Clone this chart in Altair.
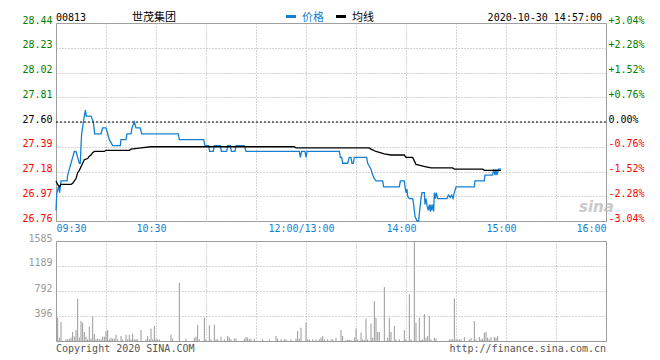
import altair as alt
import pandas as pd

# ---- data (trading minutes after 09:30, lunch break removed) ----
price_min = [0, 0.5, 1.5, 2.2, 3, 6.6, 7, 8, 9, 10, 11, 12, 13, 14, 14.6, 15, 15.4, 16.4, 17, 17.6,
             18.2, 21, 22.4, 23.2, 27, 28, 30, 31, 32, 34, 38.6, 39, 42, 42.6, 45, 45.6, 47, 48, 50.6, 51.4,
             73.4, 74, 88.6, 89.4, 91.6, 92.2, 94.4, 95, 98.6, 99.2, 102.4, 103, 104.6, 105.2, 107.4, 108,
             113, 114, 146, 146.6, 147.4, 149.4, 150, 150.6, 170, 170.6, 171.4, 172, 175, 176, 177, 177.6,
             178.4, 179, 186.4, 187, 189, 190, 191, 192, 196, 196.6, 206, 206.6, 209, 209.4, 210, 210.6,
             211, 212, 214, 214.6, 215.4, 216.6, 217.6, 218.2, 219, 219.6, 221, 221.4, 222, 222.6, 223.4,
             224, 224.6, 225, 225.4, 226.2, 226.6, 227, 227.6, 228.2, 229, 234.6, 235.4, 236.6, 237.4,
             238.2, 239, 240, 251, 251.4, 257, 257.4, 262, 262.6, 263.4, 264, 264.6, 265.4, 267]
price_val = [26.85, 27.00, 27.05, 27.00, 27.10, 27.10, 27.15, 27.20, 27.25, 27.30, 27.35, 27.35, 27.30,
             27.25, 27.25, 27.40, 27.50, 27.60, 27.65, 27.70, 27.65, 27.65, 27.60, 27.50, 27.50, 27.55,
             27.55, 27.50, 27.45, 27.40, 27.40, 27.45, 27.45, 27.50, 27.50, 27.55, 27.60, 27.55, 27.55,
             27.50, 27.50, 27.45, 27.45, 27.40, 27.40, 27.35, 27.35, 27.40, 27.40, 27.35, 27.35, 27.40,
             27.40, 27.35, 27.35, 27.40, 27.40, 27.35, 27.35, 27.30, 27.35, 27.35, 27.30, 27.35, 27.35,
             27.30, 27.30, 27.25, 27.25, 27.30, 27.30, 27.25, 27.25, 27.30, 27.30, 27.25, 27.20, 27.15,
             27.12, 27.10, 27.10, 27.05, 27.05, 27.10, 27.10, 27.05, 27.00, 27.03, 26.97, 26.95, 26.95,
             26.90, 26.80, 26.76, 26.76, 26.85, 26.95, 27.00, 27.00, 26.90, 26.95, 26.89, 26.85, 26.90,
             26.84, 26.90, 26.85, 26.90, 26.84, 27.00, 26.95, 27.00, 26.95, 26.95, 26.98, 26.96, 26.98,
             26.95, 27.00, 27.05, 27.05, 27.10, 27.10, 27.15, 27.15, 27.20, 27.15, 27.20, 27.15, 27.20,
             27.20]

avg_min = [0, 1, 2, 3, 9, 10, 11, 12, 13, 14, 15, 16, 17, 19, 20, 21, 22, 23, 29, 30, 44, 45, 51, 57,
           143, 144, 188, 189, 192, 197, 201, 209, 210, 214, 215, 216, 219, 222, 225, 238, 239, 256, 257, 267]
avg_val = [27.10, 27.07, 27.05, 27.07, 27.07, 27.08, 27.10, 27.12, 27.17, 27.19, 27.22, 27.25, 27.28,
           27.29, 27.31, 27.32, 27.34, 27.35, 27.35, 27.36, 27.36, 27.37, 27.38, 27.39, 27.39, 27.38,
           27.38, 27.37, 27.35, 27.33, 27.32, 27.32, 27.30, 27.30, 27.27, 27.24, 27.23, 27.22, 27.21,
           27.21, 27.20, 27.20, 27.19, 27.19]

vol_min = [1, 2, 3, 6, 7, 8, 9, 10, 11, 12, 13, 14, 15, 16, 17, 18, 19, 20, 21, 22, 23, 24, 25, 26, 27,
           28, 29, 30, 31, 32, 33, 34, 35, 36, 37, 39, 40, 42, 43, 44, 45, 46, 47, 48, 49, 51, 54, 55, 56,
           57, 58, 59, 60, 61, 62, 69, 70, 74, 78, 83, 84, 85, 86, 89, 90, 92, 93, 95, 96, 97, 99, 101,
           103, 104, 105, 107, 108, 113, 114, 115, 116, 117, 119, 124, 128, 132, 133, 135, 137, 138, 141,
           144, 145, 146, 147, 150, 151, 152, 154, 156, 158, 159, 160, 161, 163, 165, 166, 168, 171, 172,
           174, 175, 176, 177, 179, 180, 181, 183, 184, 185, 186, 187, 189, 190, 191, 192, 193, 194, 197,
           199, 200, 201, 203, 204, 206, 209, 210, 212, 213, 215, 216, 218, 219, 220, 221, 222, 223, 224,
           225, 227, 228, 236, 237, 238, 239, 240, 241, 242, 243, 245, 248, 249, 251, 252, 254, 255, 256,
           257, 258, 259, 260, 261, 263, 264, 265]
vol_val = [370, 53, 301, 26, 26, 37, 53, 143, 69, 174, 671, 53, 317, 291, 143, 69, 26, 227, 37, 386, 116,
           26, 37, 26, 26, 69, 69, 153, 174, 26, 53, 37, 37, 100, 26, 79, 26, 100, 26, 100, 26, 116, 26,
           26, 26, 174, 26, 79, 26, 195, 26, 238, 37, 26, 26, 100, 37, 925, 37, 53, 69, 259, 26, 370, 26,
           248, 26, 259, 26, 26, 69, 26, 79, 53, 26, 37, 37, 37, 63, 53, 26, 37, 37, 26, 26, 79, 37, 26,
           26, 26, 26, 37, 158, 37, 211, 291, 26, 26, 26, 26, 26, 53, 79, 26, 26, 26, 26, 53, 174, 79,
           16, 16, 16, 16, 53, 195, 26, 132, 26, 16, 354, 26, 275, 53, 634, 370, 143, 143, 856, 53, 370,
           143, 238, 26, 26, 174, 26, 740, 26, 1569, 291, 370, 16, 26, 428, 53, 79, 396, 26, 53, 37, 26,
           26, 26, 671, 26, 26, 26, 26, 63, 26, 48, 317, 26, 63, 26, 37, 132, 143, 53, 26, 63, 63, 53, 79]

prev_close = 27.60
price_ticks = [26.76, 26.97, 27.18, 27.39, 27.60, 27.81, 28.02, 28.23, 28.44]
vol_ticks = [396, 792, 1189, 1585]
grid_minutes = [0, 30, 60, 90, 120, 150, 180, 210, 240, 270, 300, 330]
time_tick_minutes = [0, 60, 150, 210, 270, 330]
time_tick_labels = ["09:30", "10:30", "12:00/13:00", "14:00", "15:00", "16:00"]

stock_code = "00813"
stock_name = "世茂集团"
legend_price = "价格"
legend_avg = "均线"
stamp = "2020-10-30 14:57:00"
footer_left = "Copyright 2020 SINA.COM"
footer_right = "http://finance.sina.com.cn"

# ---- styling ----
W, H1, H2 = 550, 198, 100
MONO = "DejaVu Sans Mono"
CJK = "Noto Sans CJK SC"
BLUE = "#1580d2"
GRID = "#aaaaaa"
HY = -5.5

price_df = pd.DataFrame({"m": price_min, "p": price_val})
avg_df = pd.DataFrame({"m": avg_min, "p": avg_val})
vol_df = pd.DataFrame({"m": vol_min, "v": vol_val})
pc_df = pd.DataFrame({"p": [prev_close]})
one = pd.DataFrame({"a": [0]})

xscale = alt.Scale(domain=[0, 330], nice=False, zero=False)
pscale = alt.Scale(domain=[26.76, 28.44], nice=False, zero=False)
vscale = alt.Scale(domain=[0, 1585], nice=False, zero=True)

label_expr = "".join(f"datum.value == {m} ? '{l}' : " for m, l in zip(time_tick_minutes, time_tick_labels)) + "''"
color_expr = (f"datum.value > {prev_close + 0.005} ? '#008000' : "
              f"(datum.value < {prev_close - 0.005} ? '#ff0000' : '#000000')")
pct_expr = (f"(datum.value > {prev_close + 0.005} ? '+' : (datum.value < {prev_close - 0.005} ? '-' : '')) + "
            f"format(abs(datum.value - {prev_close}) / {prev_close} * 100, '.2f') + '%'")

x_axis_price = alt.Axis(values=grid_minutes, labelExpr=label_expr, grid=True, gridColor=GRID,
                        gridDash=[1, 2], ticks=False, domain=False, labelFont=MONO, labelFontSize=10,
                        labelColor=BLUE, labelPadding=2, labelOverlap=False, labelFlush=True,
                        labelOffset={"expr": "datum.value == 0 || datum.value == 330 ? 0 : -5"},
                        title=None)
y_axis_left = alt.Axis(values=price_ticks, format=".2f", grid=True, gridColor=GRID, gridDash=[1, 2],
                       ticks=False, domain=False, labelFont=MONO, labelFontSize=10, labelPadding=4,
                       labelOffset=-3, labelColor={"expr": color_expr}, labelOverlap=False, title=None)
y_axis_right = alt.Axis(orient="right", values=price_ticks, labelExpr=pct_expr, grid=False, ticks=False,
                        domain=False, labelFont=MONO, labelFontSize=10, labelPadding=2, labelOffset=-3,
                        labelColor={"expr": color_expr}, labelOverlap=False, title=None)

blue_line = alt.Chart(price_df).mark_line(color=BLUE, strokeWidth=1.3).encode(
    x=alt.X("m:Q", scale=xscale, axis=x_axis_price),
    y=alt.Y("p:Q", scale=pscale, axis=y_axis_left),
)
avg_line = alt.Chart(avg_df).mark_line(color="#000000", strokeWidth=1.3).encode(
    x=alt.X("m:Q", scale=xscale, axis=x_axis_price),
    y=alt.Y("p:Q", scale=pscale, axis=y_axis_left),
)


def txt(s, x, y, color="#000000", font=MONO, size=10, align="left", **kw):
    return alt.Chart(one).mark_text(text=s, font=font, fontSize=size, color=color, align=align,
                                    baseline="middle", **kw).encode(x=alt.value(x), y=alt.value(y))


def legend_bar(x0, x1, color):
    return alt.Chart(one).mark_rule(color=color, strokeWidth=3).encode(
        x=alt.value(x0), x2=alt.value(x1), y=alt.value(HY - 1))


header = [
    txt(stock_code, 0, HY),
    txt(stock_name, 76, HY, font=CJK, size=11),
    legend_bar(230, 240, BLUE),
    txt(legend_price, 246, HY, color=BLUE, font=CJK, size=11),
    legend_bar(280, 290, "#000000"),
    txt(legend_avg, 296, HY, font=CJK, size=11),
    txt(stamp, 546, HY, align="right"),
    txt("sina", 523, 184, color="#bdbdbd", font="DejaVu Sans", size=15, fontStyle="italic",
        fontWeight="bold", opacity=0.8),
]

price_left = alt.layer(blue_line, avg_line, *header)

pc_rule = alt.Chart(pc_df).mark_rule(color="#000000", strokeDash=[2, 2], strokeWidth=1).encode(
    y=alt.Y("p:Q", scale=pscale, axis=y_axis_right)
)

price = alt.layer(price_left, pc_rule).resolve_scale(y="independent").properties(width=W, height=H1)

vol_bars = alt.Chart(vol_df).mark_rule(color="#999999", strokeWidth=1).encode(
    x=alt.X("m:Q", scale=xscale,
            axis=alt.Axis(values=grid_minutes, labels=False, grid=True, gridColor=GRID, gridDash=[1, 2],
                          ticks=False, domain=False, title=None)),
    y=alt.Y("v:Q", scale=vscale,
            axis=alt.Axis(values=vol_ticks, format="d", grid=True, gridColor=GRID, gridDash=[1, 2],
                          ticks=False, domain=False, labelFont=MONO, labelFontSize=10, labelPadding=4,
                          labelOffset=-3, labelColor="#999999", labelOverlap=False, title=None)),
    y2=alt.datum(0),
)

footer = [
    txt(footer_left, 0, 108, color="#555555"),
    txt(footer_right, 550, 108, color="#555555", align="right"),
]

volume = alt.layer(vol_bars, *footer).properties(width=W, height=H2)

chart = alt.vconcat(price, volume, spacing=20, bounds="flush").properties(
    padding={"left": 13, "top": 3, "right": 5, "bottom": 0},
    background="#ffffff",
).configure_view(stroke="#999999", strokeWidth=1)

chart.save("out.html", embed_options={"renderer": "svg", "actions": False})
